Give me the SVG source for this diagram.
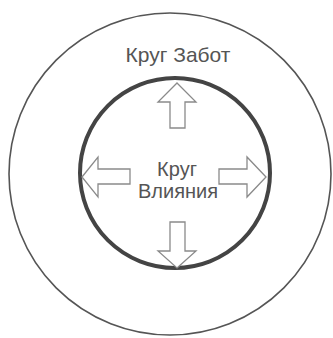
<svg xmlns="http://www.w3.org/2000/svg" width="333" height="338" viewBox="0 0 333 338">
<style>
.lbl{font-family:"Liberation Sans",Arial,sans-serif;font-size:20px;fill:#555;text-anchor:middle}
.arr{fill:#fff;stroke:#8a8a8a;stroke-width:1.3;stroke-linejoin:miter}
</style>
<rect width="333" height="338" fill="#fff"/>
<g id="circle-concern">
<circle cx="170" cy="174" r="161" fill="none" stroke="#555" stroke-width="1.6"/>
<text class="lbl" x="178" y="62" font-size="21" style="font-size:21px">Круг Забот</text>
</g>
<g id="circle-influence">
<circle cx="175" cy="173" r="95" fill="none" stroke="#444" stroke-width="4"/>
<text class="lbl" x="177" y="176">Круг</text>
<text class="lbl" x="178" y="198">Влияния</text>
</g>
<g id="connectors">
<polygon class="arr" points="177,83 196,102 185,102 185,128 170,128 170,102 158,102"/>
<polygon class="arr" points="177,268 196,251 185,251 185,222 170,222 170,251 158,251"/>
<polygon class="arr" points="82,177 98,157 98,169 130,169 130,184 98,184 98,197"/>
<polygon class="arr" points="266,177 247,157 247,169 219,169 219,184 247,184 247,197"/>
</g>
</svg>
